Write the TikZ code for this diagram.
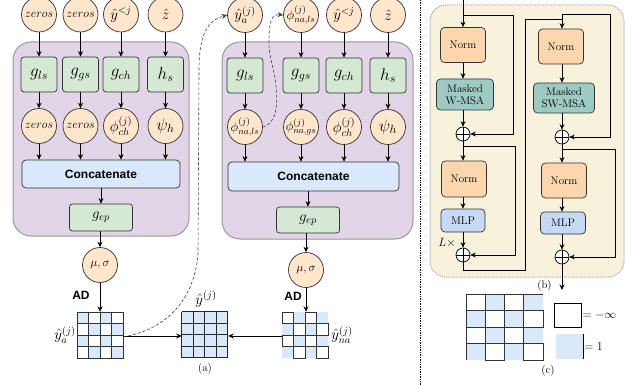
\documentclass[tikz,border=0pt]{standalone}
\usepackage{fix-cm}
\usepackage{fontspec}
\newfontfamily\hv{Liberation Sans}
\usetikzlibrary{arrows.meta,calc}
\definecolor{peach}{HTML}{FFE6CC}
\definecolor{gfill}{HTML}{D5E8D4}
\definecolor{pfill}{HTML}{E1D5E7}
\definecolor{bfill}{HTML}{DAE8FC}
\definecolor{yfill}{HTML}{F8F1DB}
\definecolor{normc}{HTML}{FCD6AE}
\definecolor{tealc}{HTML}{9DCAC3}
\definecolor{mlpc}{HTML}{C6D9F5}
\begin{document}
\begin{tikzpicture}[x=1pt,y=-1pt,
  arr/.style={-{Stealth[length=5.5pt,width=5pt]}, line width=0.8pt, draw=black},
  circ/.style={circle, draw=black!80, fill=peach, line width=0.7pt, minimum size=35pt, inner sep=0pt},
  gbox/.style={rectangle, rounded corners=3pt, draw=black!80, fill=gfill, line width=0.7pt, minimum width=36pt, minimum height=35pt, inner sep=0pt},
  catbox/.style={rectangle, rounded corners=4pt, draw=black!80, fill=bfill, line width=0.7pt, inner sep=0pt, font=\hv\bfseries\fontsize{12}{14}\selectfont},
  pbox/.style={rectangle, rounded corners=18pt, draw=black!40, fill=pfill, line width=1pt, inner sep=0pt},
  ybox/.style={rectangle, rounded corners=16pt, draw=black!35, densely dotted, fill=yfill, line width=1pt, inner sep=0pt},
  nbox/.style={rectangle, rounded corners=4pt, draw=black!80, line width=0.7pt, inner sep=0pt, align=center, font=\fontsize{11}{12}\selectfont},
  oplus/.style={circle, draw=black, fill=white, minimum size=14pt, inner sep=0pt, line width=0.7pt},
  dashl/.style={densely dashed, draw=black!75, line width=0.6pt, -{Stealth[length=5.5pt,width=5pt]}},
  lab/.style={inner sep=0pt, font=\fontsize{11}{12}\selectfont},
  adl/.style={inner sep=0pt, font=\hv\bfseries\fontsize{12}{14}\selectfont},
  gridn/.style={rectangle, inner sep=0pt, minimum size=46pt},
  m12/.style={font=\fontsize{12}{14}\selectfont},
  m13/.style={font=\fontsize{13}{15}\selectfont},
  m15/.style={font=\fontsize{15}{17}\selectfont},
  m17/.style={font=\fontsize{17}{19}\selectfont},
  cellw/.style={draw=black!80, fill=white, line width=0.5pt},
  cellb/.style={fill=bfill}
]
\useasboundingbox (0,0) rectangle (632,385);

% ---------------- panel (a) left block ----------------
\node[pbox, minimum width=176pt, minimum height=194pt] (P1) at (101,139) {};
\node[circ, m12] (c11) at (39,14.5) {$zeros$};
\node[circ, m12] (c12) at (80.5,14.5) {$zeros$};
\node[circ, m15] (c13) at (121,14.5) {$\hat y^{<j}$};
\node[circ, m15] (c14) at (165.5,14.5) {$\hat z$};
\node[gbox, m17] (g11) at (39,74.5) {$g_{ls}$};
\node[gbox, m17] (g12) at (80.5,74.5) {$g_{gs}$};
\node[gbox, m17] (g13) at (121,74.5) {$g_{ch}$};
\node[gbox, m17] (g14) at (165.5,74.5) {$h_{s}$};
\node[circ, m12] (d11) at (39,126) {$zeros$};
\node[circ, m12] (d12) at (80.5,126) {$zeros$};
\node[circ, m15] (d13) at (121,126) {$\phi^{(j)}_{ch}$};
\node[circ, m17] (d14) at (165.5,126) {$\psi_h$};
\node[catbox, minimum width=158pt, minimum height=28pt] (cat1) at (101,174) {Concatenate};
\node[gbox, m15, minimum width=63pt, minimum height=27pt] (ep1) at (101,217.5) {$g_{ep}$};
\node[circ, m12] (ms1) at (100,265) {$\mu,\sigma$};
\node[adl] (ad1) at (81,295) {AD};
\node[gridn] (G1) at (100,335) {};
\foreach \i in {1,2,3,4} {
  \draw[arr] (c1\i) -- (g1\i);
  \draw[arr] (g1\i) -- (d1\i);
  \draw[arr] (d1\i.south) -- (d1\i.south |- cat1.north);
}
\draw[arr] (ep1.north |- cat1.south) -- (ep1.north);
\draw[arr] (ms1.north |- ep1.south) -- (ms1.north);
\draw[arr] (ms1) -- (G1.north);

% ---------------- panel (a) right block ----------------
\node[pbox, minimum width=191pt, minimum height=197pt] (P2) at (317.5,140.5) {};
\node[circ, m15] (c21) at (245,15) {$\hat y^{(j)}_a$};
\node[circ, m13] (c22) at (301,15) {$\phi^{(j)}_{na,ls}$};
\node[circ, m15] (c23) at (344,15) {$\hat y^{<j}$};
\node[circ, m15] (c24) at (388,15) {$\hat z$};
\node[gbox, m17] (g21) at (245,75.5) {$g_{ls}$};
\node[gbox, m17] (g22) at (301,75.5) {$g_{gs}$};
\node[gbox, m17] (g23) at (344,75.5) {$g_{ch}$};
\node[gbox, m17] (g24) at (388,75.5) {$h_{s}$};
\node[circ, m13] (d21) at (245,127) {$\phi^{(j)}_{na,ls}$};
\node[circ, m13] (d22) at (301,127) {$\phi^{(j)}_{na,gs}$};
\node[circ, m15] (d23) at (344,127) {$\phi^{(j)}_{ch}$};
\node[circ, m17] (d24) at (388,127) {$\psi_h$};
\node[catbox, minimum width=171pt, minimum height=29pt] (cat2) at (313.5,176.5) {Concatenate};
\node[gbox, m15, minimum width=63pt, minimum height=26pt] (ep2) at (308,220) {$g_{ep}$};
\node[circ, m12] (ms2) at (306,270) {$\mu,\sigma$};
\node[adl] (ad2) at (293,296) {AD};
\node[gridn] (G2) at (305,335) {};
\foreach \i in {1,2,3,4} {
  \draw[arr] (c2\i) -- (g2\i);
  \draw[arr] (g2\i) -- (d2\i);
  \draw[arr] (d2\i.south) -- (d2\i.south |- cat2.north);
}
\draw[arr] (ep2.north |- cat2.south) -- (ep2.north);
\draw[arr] (ms2.north |- ep2.south) -- (ms2.north);
\draw[arr] (ms2.south) -- (ms2.south |- G2.north);

% ---------------- grids ----------------
\node[gridn] (G0) at (205,335) {};
% left checker (blue where i+j even)
\begin{scope}[shift={(G1.north west)}]
  \foreach \i in {0,1,2,3} \foreach \j in {0,1,2,3} {
    \pgfmathtruncatemacro\p{mod(\i+\j,2)}
    \ifnum\p=0 \fill[cellb] (\i*11.5,\j*11.5) rectangle ++(11.5,11.5); \fi
  }
  \foreach \i in {0,1,2,3} \foreach \j in {0,1,2,3} {
    \pgfmathtruncatemacro\p{mod(\i+\j,2)}
    \ifnum\p=1 \draw[cellw] (\i*11.5,\j*11.5) rectangle ++(11.5,11.5); \fi
  }
  \draw[black!80, line width=0.6pt] (0,0) rectangle (46,46);
\end{scope}
% right checker (complement)
\begin{scope}[shift={(G2.north west)}]
  \foreach \i in {0,1,2,3} \foreach \j in {0,1,2,3} {
    \pgfmathtruncatemacro\p{mod(\i+\j,2)}
    \ifnum\p=1 \fill[cellb] (\i*11.5,\j*11.5) rectangle ++(11.5,11.5); \fi
  }
  \foreach \i in {0,1,2,3} \foreach \j in {0,1,2,3} {
    \pgfmathtruncatemacro\p{mod(\i+\j,2)}
    \ifnum\p=0 \draw[cellw] (\i*11.5,\j*11.5) rectangle ++(11.5,11.5); \fi
  }
\end{scope}
% middle full grid
\begin{scope}[shift={(G0.north west)}]
  \fill[bfill] (0,0) rectangle (46,46);
  \foreach \k in {0,11.5,23,34.5,46} {
    \draw[black!85, line width=0.8pt] (\k,0) -- (\k,46);
    \draw[black!85, line width=0.8pt] (0,\k) -- (46,\k);
  }
\end{scope}
\node[lab, m15, anchor=east] (la) at ([xshift=-1pt]G1.west) {$\hat y^{(j)}_a$};
\node[lab, m15, anchor=west] (lna) at ([xshift=3pt]G2.east) {$\hat y^{(j)}_{na}$};
\node[lab, m15] (l0) at (206,299) {$\hat y^{(j)}$};
\node[lab] (capa) at (205,369) {(a)};
\draw[arr] ([yshift=-1pt]G1.east) -- ([yshift=-1pt]G0.west);
\draw[arr] ([yshift=-1pt]G2.west) -- ([yshift=-1pt]G0.east);

% dashed feedback connectors
\draw[dashl] ([yshift=-2pt]G1.east) .. controls (162,330) and (193,305) .. (198,255)
   -- (199,70) .. controls (199,30) and (210,20) .. (c21.west);
\draw[dashl] (d21.east) .. controls (279,122) and (277,100) .. (276,86)
   .. controls (275,70) and (269,60) .. (269,42) .. controls (269,20) and (272,14) .. (c22.west);

% divider
\draw[densely dotted, line width=0.7pt] (420,0) -- (420,385);

% ---------------- panel (b) ----------------
\node[ybox, minimum width=194pt, minimum height=272pt] (Y) at (527,141) {};
\node[nbox, fill=normc, minimum width=45pt, minimum height=35pt] (n1) at (463,45) {Norm};
\node[nbox, fill=tealc, minimum width=57pt, minimum height=31pt] (m1) at (465,94.5) {Masked\\W-MSA};
\node[oplus] (o1) at (463,134) {};
\node[nbox, fill=normc, minimum width=45pt, minimum height=36pt] (n2) at (464,179) {Norm};
\node[nbox, fill=mlpc, minimum width=44pt, minimum height=23pt] (l1) at (463,220.5) {MLP};
\node[oplus] (o2) at (463,255) {};
\node[nbox, fill=normc, minimum width=45pt, minimum height=35pt] (n3) at (561,46.5) {Norm};
\node[nbox, fill=tealc, minimum width=61pt, minimum height=30pt] (m2) at (564,98) {Masked\\SW-MSA};
\node[oplus] (o3) at (562,137) {};
\node[nbox, fill=normc, minimum width=45pt, minimum height=35pt] (n4) at (564,180.5) {Norm};
\node[nbox, fill=mlpc, minimum width=45pt, minimum height=22pt] (l2) at (563,223) {MLP};
\node[oplus] (o4) at (562,257) {};
\foreach \o in {o1,o2,o3,o4} \draw[line width=0.7pt] (\o.north) -- (\o.south) (\o.west) -- (\o.east);
\node[lab, m12, anchor=east] (Lx) at (456,243) {$L\times$};
\node[lab] (capb) at (544.5,286) {(b)};

\coordinate (in) at (463,0);
\coordinate (r1) at (463,15);
\coordinate (r2) at (463,146);
\coordinate (r3) at (562,14);
\coordinate (r4) at (562,149);
\coordinate (out) at (562,290);
\draw[arr] (in) -- (n1.north -| in);
\draw[arr] (r1) -| (513,134) -- (o1.east);
\draw[arr] (n1.south -| o1) -- (m1.north -| o1);
\draw[arr] (m1.south -| o1) -- (o1.north);
\draw[arr] (o1.south) -- (n2.north -| o1);
\draw[arr] (r2) -| (515,255) -- (o2.east);
\draw[arr] (n2.south -| o2) -- (l1.north -| o2);
\draw[arr] (l1.south -| o2) -- (o2.north);
\draw[line width=0.8pt] (o2.south) |- (525,270) -- (525,19) -- (562,19);
\draw[arr] (r3) -- (n3.north -| r3);
\draw[arr] (r3) -| (610,137) -- (o3.east);
\draw[arr] (n3.south -| o3) -- (m2.north -| o3);
\draw[arr] (m2.south -| o3) -- (o3.north);
\draw[arr] (o3.south) -- (n4.north -| o3);
\draw[arr] (r4) -| (615,257) -- (o4.east);
\draw[arr] (n4.south -| o4) -- (l2.north -| o4);
\draw[arr] (l2.south -| o4) -- (o4.north);
\draw[arr] (o4.south) -- (out);

% ---------------- panel (c) ----------------
\node[rectangle, inner sep=0pt, minimum width=77pt, minimum height=66pt] (G3) at (504.5,327) {};
\begin{scope}[shift={(G3.north west)}]
  \foreach \i in {0,1,2,3} \foreach \j in {0,1,2,3} {
    \pgfmathtruncatemacro\p{mod(\i+\j,2)}
    \ifnum\p=1 \fill[cellb] (\i*19.25,\j*16.5) rectangle ++(19.25,16.5); \fi
  }
  \foreach \i in {0,1,2,3} \foreach \j in {0,1,2,3} {
    \pgfmathtruncatemacro\p{mod(\i+\j,2)}
    \ifnum\p=0 \draw[cellw] (\i*19.25,\j*16.5) rectangle ++(19.25,16.5); \fi
  }
  \draw[black!80, line width=0.5pt] (0,66) -- (0,0) -- (77,0);
\end{scope}
\node[rectangle, draw=black, line width=0.8pt, fill=white, minimum width=27pt, minimum height=24pt, inner sep=0pt] (k1) at (567.5,315) {};
\node[lab, m12, anchor=west] (k1t) at ([xshift=1pt]k1.east) {$=-\infty$};
\node[rectangle, fill=bfill, minimum width=27pt, minimum height=25pt, inner sep=0pt] (k2) at (569.5,346.5) {};
\draw[line width=0.8pt] (k2.north east) -- (k2.south east);
\node[lab, m12, anchor=west] (k2t) at ([xshift=1pt]k2.east) {$=1$};
\node[lab] (capc) at (548,371) {(c)};
\end{tikzpicture}
\end{document}
